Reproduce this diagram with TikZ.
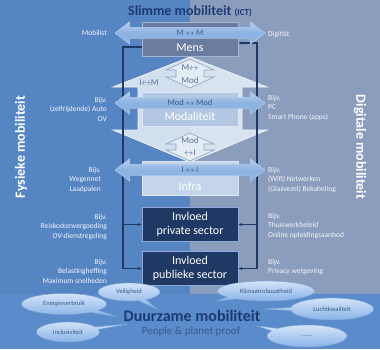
\documentclass[tikz,border=0pt]{standalone}
\usepackage{fontspec}
\setmainfont{Carlito}
\usetikzlibrary{shapes.arrows,shapes.callouts,arrows.meta}

\definecolor{leftbg}{HTML}{5685C4}
\definecolor{rightbg}{HTML}{8B9DBD}
\definecolor{bandbg}{HTML}{5A8BCB}
\definecolor{navy}{HTML}{1F3864}
\definecolor{titleblue}{HTML}{1C3A72}
\definecolor{peopleblue}{HTML}{3A5B8E}
\definecolor{labelwhite}{HTML}{F2F6FB}
\definecolor{arrowblue}{HTML}{8DB3E2}
\definecolor{arrowedge}{HTML}{B5CDEC}
\definecolor{arrowtext}{HTML}{3B5A8D}
\definecolor{mensfill}{HTML}{6A7DA0}
\definecolor{boxedge}{HTML}{A7B6D0}
\definecolor{modfill}{HTML}{B3C7E3}
\definecolor{infrafill}{HTML}{C4D5EB}
\definecolor{modedge}{HTML}{DCE6F2}
\definecolor{sectoredge}{HTML}{8EA9DB}
\definecolor{housefill}{HTML}{E4ECF6}
\definecolor{houseedge}{HTML}{EEF3F9}
\definecolor{smalledge}{HTML}{8FA3C3}
\definecolor{smalltextc}{HTML}{5B7093}
\definecolor{bubbletop}{HTML}{D3E4F8}
\definecolor{bubblebot}{HTML}{86B0E6}
\definecolor{bubbleedge}{HTML}{7EA5D8}

\begin{document}
\begin{tikzpicture}[x=1pt, y=-1pt, font=\fontsize{7.5}{9.5}\selectfont]
\tikzset{
  lbl/.style={text=labelwhite, align=right, anchor=east, inner sep=0pt},
  rlbl/.style={text=labelwhite, align=left, anchor=west, inner sep=0pt},
  box/.style={draw=boxedge, line width=0.8pt, minimum width=96pt, minimum height=34pt, inner sep=0pt},
  boxtext/.style={text=white, font=\fontsize{12}{14}\selectfont, inner sep=0pt},
  sectorbox/.style={box, fill=navy, draw=sectoredge, text=white, align=center, font=\fontsize{12}{14}\selectfont},
  flow/.style={double arrow, double arrow head extend=5.5pt, double arrow tip angle=75,
    top color=arrowedge, bottom color=arrowblue, middle color=arrowblue, draw=arrowedge, line width=0.4pt, minimum height=150pt,
    inner xsep=0pt, inner ysep=1.75pt, text height=6pt, text depth=1.5pt,
    text=arrowtext, font=\fontsize{8.5}{9}\selectfont},
  frameline/.style={draw=navy, line width=1.2pt},
  smallarrow/.style={draw=smalledge, fill=housefill, line width=0.6pt},
  smalltext/.style={text=smalltextc, font=\fontsize{9}{10}\selectfont, inner sep=0pt},
  bubble/.style={ellipse callout, draw=bubbleedge, line width=0.4pt, top color=bubbletop,
    bottom color=bubblebot, text=arrowtext, font=\fontsize{6.5}{7}\selectfont, inner sep=0pt},
  side/.style={text=white, font=\bfseries\fontsize{14}{16}\selectfont}
}
\useasboundingbox (0,0) rectangle (380,349);
% achtergrond
\fill[leftbg] (0,0) rectangle (190,294);
\fill[rightbg] (190,0) rectangle (380,294);
\fill[bandbg] (0,294) rectangle (380,349);

\node[text=titleblue, font=\bfseries\fontsize{14}{16}\selectfont] (title) at (190,11)
  {Slimme mobiliteit {\fontsize{9}{10}\selectfont(ICT)}};
\node[side, rotate=90] (fysiek) at (21,147) {Fysieke mobiliteit};
\node[side, rotate=-90] (digitaal) at (360,147) {Digitale mobiliteit};

% huis met pijl naar beneden
\draw[fill=housefill, fill opacity=0.88, draw=houseedge, line width=0.8pt] (190,57) -- (267,87) -- (242,87) -- (242,130)
  -- (267,130) -- (190,162) -- (113,130) -- (138,130) -- (138,87) -- (113,87) -- cycle;

% lagen
\node[box, fill=mensfill] (mens) at (190,39.5) {};
\node[box, fill=modfill, draw=modedge] (modal) at (190,109.5) {};
\node[box, fill=infrafill, draw=modedge] (infra) at (190,178.5) {};
\node[sectorbox] (priv) at (190,224.5) {Invloed\\private sector};
\node[sectorbox] (publ) at (190,268.5) {Invloed\\publieke sector};

% kader
\coordinate (lt) at (123,47);
\coordinate (lb) at (123,268.5);
\coordinate (rt) at (257,43);
\coordinate (rb) at (257,268.5);
\draw[frameline, -{Stealth[length=4pt]}] (lt -| mens.west) -- (lt) -- (lb) -- (publ.west);
\draw[frameline, -{Stealth[length=4pt]}] (lt |- priv.west) -- (priv.west);
\draw[frameline, {Stealth[length=4pt]}-{Stealth[length=4pt]}] (rt -| mens.east) -- (rt) -- (rb) -- (publ.east);
\draw[frameline, -{Stealth[length=4pt]}] (rt |- priv.east) -- (priv.east);

\node[boxtext] (menstxt) at (190,48) {Mens};
\node[boxtext] (modaltxt) at (190,116) {Modaliteit};
\node[boxtext] (infratxt) at (190,186) {Infra};

\foreach \yt/\yb in {59/88,133/161}
  \draw[smallarrow] (190,\yt) -- (214,\yt+11) -- (204,\yt+11) -- (204,\yb-11) -- (214,\yb-11)
    -- (190,\yb) -- (166,\yb-11) -- (176,\yb-11) -- (176,\yt+11) -- (166,\yt+11) -- cycle;
\node[smalltext] (mmod1) at (190,68) {M$\leftrightarrow$};
\node[smalltext] (mmod2) at (190,80) {Mod};
\node[smalltext] (modi1) at (190,140) {Mod};
\node[smalltext] (modi2) at (190,153) {$\leftrightarrow$I};
\node[smalltext] (im) at (149,83) {I$\leftrightarrow$M};

\node[flow] (mm) at (190,33) {M $\leftrightarrow$ M};
\node[flow] (modmod) at (190,103) {Mod $\leftrightarrow$ Mod};
\node[flow] (ii) at (190,170) {I $\leftrightarrow$ I};

% voorbeelden links en rechts
\node[lbl] (mobilist) at (107,33) {Mobilist};
\node[lbl] (lauto) at (107,109) {Bijv.\\(zelfrijdende) Auto\\OV};
\node[lbl] (lweg) at (101,180) {Bijv.\\Wegennet\\Laadpalen};
\node[lbl] (lreis) at (107,227) {Bijv.\\Reiskostenvergoeding\\OV-dienstregeling};
\node[lbl] (lbel) at (107,271) {Bijv.\\Belastingheffing\\Maximum snelheden};
\node[rlbl] (digitist) at (268,35) {Digitist};
\node[rlbl] (rpc) at (268,108) {Bijv.\\PC\\Smart Phone (apps)};
\node[rlbl] (rnet) at (268,180) {Bijv.\\(Wifi) Netwerken\\(Glasvezel) Bekabeling};
\node[rlbl] (rthuis) at (268,226) {Bijv.\\Thuiswerkbeleid\\Online opleidingsaanbod};
\node[rlbl] (rpriv) at (268,267) {Bijv.\\Privacy wetgeving};

% duurzaamheid
\node[bubble, minimum width=62pt, minimum height=18pt, callout absolute pointer={(157,309)}] (veilig) at (129,292) {Veiligheid};
\node[bubble, minimum width=85pt, minimum height=21pt, callout absolute pointer={(118,317)}] (energie) at (64,304) {Energieverbruik};
\node[bubble, minimum width=63pt, minimum height=20pt, callout absolute pointer={(128,324)}] (inclusief) at (68,332) {Inclusiviteit};
\node[bubble, minimum width=97pt, minimum height=20pt, callout absolute pointer={(217,301)}] (klimaat) at (266,291) {Klimaatrobuustheid};
\node[bubble, minimum width=83pt, minimum height=22pt, callout absolute pointer={(263,309)}] (lucht) at (332,309) {Luchtkwaliteit};
\node[bubble, minimum width=80pt, minimum height=22pt, callout absolute pointer={(257,326)}] (overig) at (307,336) {......};

\node[text=titleblue, font=\bfseries\fontsize{16}{18}\selectfont] (duurzaam) at (192,316) {Duurzame mobiliteit};
\node[text=peopleblue, font=\fontsize{11}{13}\selectfont] (people) at (191,332) {People \& planet proof};
\end{tikzpicture}
\end{document}
